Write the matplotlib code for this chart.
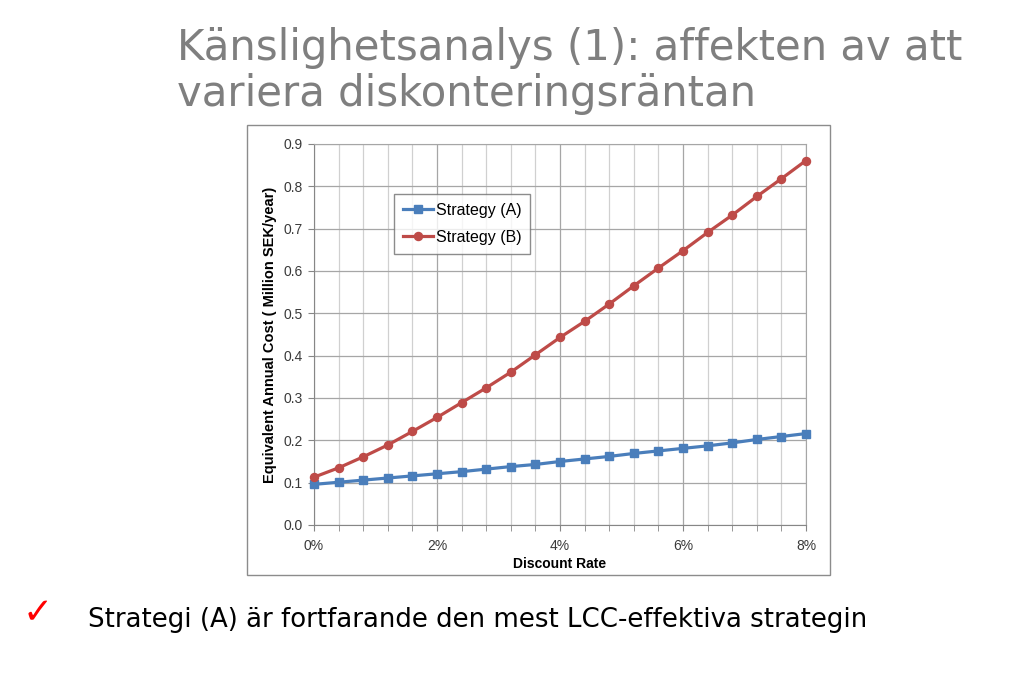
import numpy as np
import matplotlib.pyplot as plt
from matplotlib.patches import Rectangle
from matplotlib.ticker import MultipleLocator, FuncFormatter

# Data
rate = [0.0, 0.4, 0.8, 1.2, 1.6, 2.0, 2.4, 2.8, 3.2, 3.6, 4.0,
        4.4, 4.8, 5.2, 5.6, 6.0, 6.4, 6.8, 7.2, 7.6, 8.0]
strategy_a = [0.096, 0.101, 0.106, 0.111, 0.116, 0.121, 0.126, 0.132, 0.138, 0.143, 0.150,
              0.156, 0.162, 0.169, 0.175, 0.181, 0.187, 0.194, 0.202, 0.209, 0.216]
strategy_b = [0.113, 0.135, 0.161, 0.189, 0.221, 0.254, 0.289, 0.324, 0.361, 0.402, 0.443,
              0.481, 0.522, 0.565, 0.607, 0.648, 0.691, 0.732, 0.776, 0.818, 0.861]

W, H = 1030, 699
fig = plt.figure(figsize=(W / 100, H / 100), dpi=100)
fig.patch.set_facecolor('white')

# Slide title (two lines)
fig.text(177 / W, 1 - 60 / H, 'Känslighetsanalys (1): affekten av att',
         fontsize=30.2, color='#7f7f7f', family='DejaVu Sans', va='baseline', ha='left')
fig.text(177 / W, 1 - 106 / H, 'variera diskonteringsräntan',
         fontsize=30.2, color='#7f7f7f', family='DejaVu Sans', va='baseline', ha='left')

# Chart frame
fig.patches.append(Rectangle((247 / W, 1 - 575 / H), (830 - 247) / W, (575 - 125) / H,
                             transform=fig.transFigure, fill=False,
                             edgecolor='#8c8c8c', linewidth=1.0))

ax = fig.add_axes([314 / W, 1 - 525 / H, (806 - 314) / W, (525 - 144) / H])
chart_font = 'Liberation Sans'

ax.plot(rate, strategy_a, color='#4a7ebb', linewidth=2.3, marker='s', markersize=5.5,
        label='Strategy (A)', zorder=3, clip_on=False)
ax.plot(rate, strategy_b, color='#be4b48', linewidth=2.3, marker='o', markersize=5.8,
        label='Strategy (B)', zorder=3, clip_on=False)

ax.set_xlim(0, 8)
ax.set_ylim(0, 0.9)
ax.xaxis.set_major_locator(MultipleLocator(2))
ax.xaxis.set_minor_locator(MultipleLocator(0.4))
ax.yaxis.set_major_locator(MultipleLocator(0.1))
ax.xaxis.set_major_formatter(FuncFormatter(lambda v, p: f'{v:.0f}%'))
ax.yaxis.set_major_formatter(FuncFormatter(lambda v, p: f'{v:.1f}'))

ax.grid(which='major', axis='both', color='#a6a6a6', linewidth=0.9)
ax.grid(which='minor', axis='x', color='#d0d0d0', linewidth=0.9)
ax.set_axisbelow(True)

for s in ax.spines.values():
    s.set_color('#a6a6a6')
ax.spines['left'].set_color('#868686')
ax.spines['bottom'].set_color('#868686')

ax.tick_params(axis='both', which='both', direction='out', color='#868686',
               labelsize=10, labelcolor='#3a3a3a')
ax.tick_params(axis='x', which='major', length=4, pad=6)
ax.tick_params(axis='x', which='minor', length=4)
ax.tick_params(axis='y', length=4, pad=4)
for lab in ax.get_xticklabels() + ax.get_yticklabels():
    lab.set_family(chart_font)

ax.set_xlabel('Discount Rate', fontsize=10, fontweight='bold', family=chart_font, labelpad=3)
ax.set_ylabel('Equivalent Annual Cost ( Million SEK/year)', fontsize=10.5, fontweight='bold',
              family=chart_font, labelpad=5)

leg = ax.legend(loc='upper left',
                bbox_to_anchor=((394 - 314) / (806 - 314), (525 - 194) / (525 - 144)),
                borderaxespad=0, frameon=True, fancybox=False, edgecolor='#6f6f6f',
                handlelength=1.9, handletextpad=0.15, borderpad=0.55, labelspacing=0.75,
                prop={'family': chart_font, 'size': 11.5})
leg.get_frame().set_linewidth(1.0)

# Bottom bullet
fig.text(23 / W, 1 - 623 / H, '\u2713', fontsize=26, color='#ff0000', family='DejaVu Sans',
         va='baseline', ha='left')
fig.text(88 / W, 1 - 627 / H, 'Strategi (A) är fortfarande den mest LCC-effektiva strategin',
         fontsize=18.7, color='black', family='DejaVu Sans', va='baseline', ha='left')

fig.savefig('out.png', dpi=100)
